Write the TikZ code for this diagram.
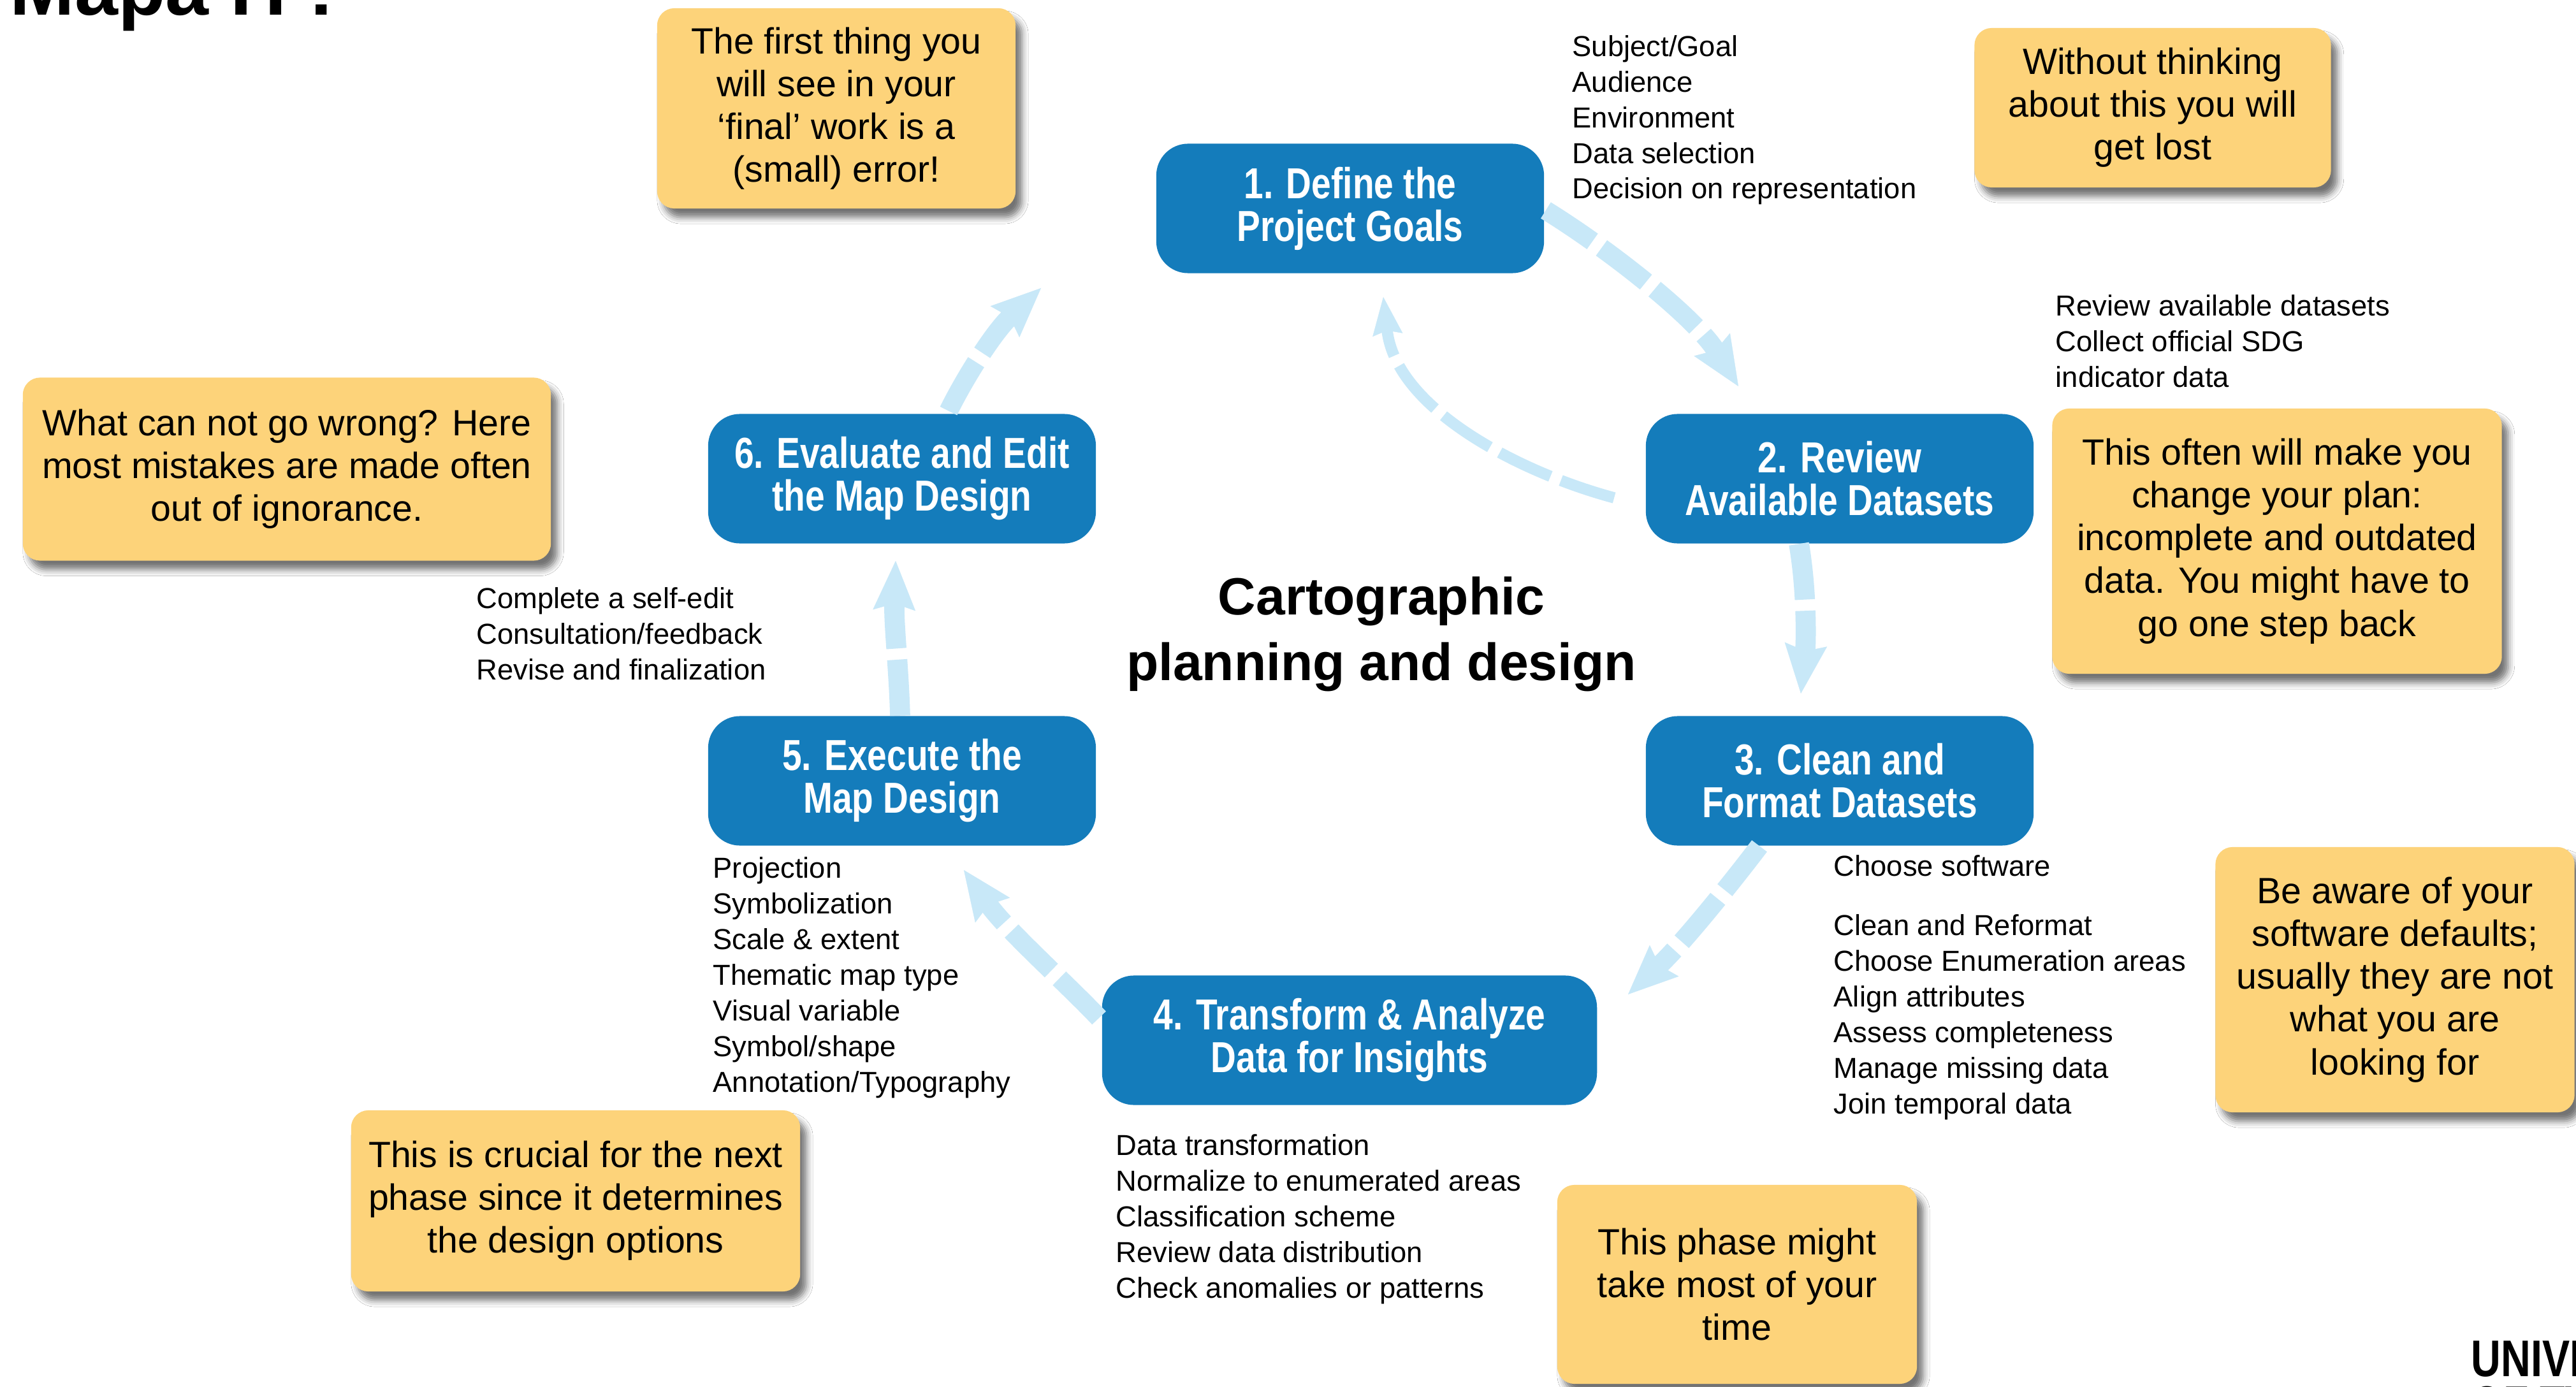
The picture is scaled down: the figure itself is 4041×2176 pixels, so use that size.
\documentclass[tikz,border=0pt]{standalone}
\usepackage{fontspec}
\setmainfont{Liberation Sans}
\newfontfamily\titlefont[FakeStretch=0.81]{Liberation Sans}
\newfontfamily\logofont[FakeStretch=0.8]{Liberation Sans}
\usetikzlibrary{arrows.meta,shadows.blur,calc}

\definecolor{stepblue}{RGB}{20,124,187}
\definecolor{noteyellow}{RGB}{253,211,122}
\definecolor{flowblue}{RGB}{200,232,248}

\begin{document}
\begin{tikzpicture}[x=0.01cm,y=-0.01cm,
  stepbox/.style={fill=stepblue, text=white, rounded corners=0.5cm,
    minimum width=6.08cm, minimum height=2.03cm, align=center, inner sep=0pt,
    font=\titlefont\bfseries\fontsize{19.35}{19.06}\selectfont},
  note/.style={fill=noteyellow, rounded corners=0.27cm, align=center, inner sep=0pt,
    font=\fontsize{16.3}{19.1}\selectfont,
    blur shadow={shadow xshift=0.1cm, shadow yshift=-0.14cm, shadow blur radius=0.1cm, shadow opacity=55}},
  list/.style={align=left, anchor=base west, inner sep=0pt, font=\fontsize{12.9}{15.9}\selectfont},
  flow/.style={draw=flowblue, line width=8.5pt, dash pattern=on 25pt off 5pt,
    -{Stealth[length=22pt,width=19pt,inset=3pt,line width=0.1pt]}},
  thinflow/.style={draw=flowblue, line width=5pt, dash pattern=on 25pt off 5pt,
    -{Stealth[length=17pt,width=13.5pt,inset=2pt,line width=0.1pt]}},
]
\useasboundingbox (0,0) rectangle (4041,2176);
\clip (0,0) rectangle (4041,2176);
\fill[white] (0,0) rectangle (4041,2176);

% title fragment and logo
\node[anchor=base west, inner sep=0pt, font=\bfseries\fontsize{34.7}{40}\selectfont] (maptitle) at (15,24) {Mapa IT?};
\node[anchor=base west, inner sep=0pt, align=left, font=\logofont\bfseries\fontsize{23}{20.2}\selectfont] (logo) at (3876,2231) {UNIVERSITY\\OF TWENTE.};

% steps
\node[stepbox] (s1) at (2118,327) {1. Define the\\Project Goals};
\node[stepbox] (s2) at (2886,751) {2. Review\\Available Datasets};
\node[stepbox] (s3) at (2886,1225) {3. Clean and\\Format Datasets};
\node[stepbox, minimum width=7.76cm] (s4) at (2117,1632) {4. Transform \& Analyze\\Data for Insights};
\node[stepbox] (s5) at (1415,1225) {5. Execute the\\Map Design};
\node[stepbox] (s6) at (1415,751) {6. Evaluate and Edit\\the Map Design};

% centre title
\node[align=center, inner sep=0pt, font=\bfseries\fontsize{23.4}{29.3}\selectfont] (ctitle) at (2167,995) {Cartographic\\planning and design};

% notes
\node[note, minimum width=5.62cm, minimum height=3.14cm] (nA) at (1312,170) {The first thing you\\will see in your\\‘final’ work is a\\(small) error!};
\node[note, minimum width=5.59cm, minimum height=2.50cm] (nB) at (3377,169) {Without thinking\\about this you will\\get lost};
\node[note, minimum width=8.28cm, minimum height=2.87cm] (nC) at (450,736) {What can not go wrong? Here\\most mistakes are made often\\out of ignorance.};
\node[note, minimum width=7.05cm, minimum height=4.16cm] (nD) at (3572,849) {This often will make you\\change your plan:\\incomplete and outdated\\data. You might have to\\go one step back};
\node[note, minimum width=5.63cm, minimum height=4.16cm] (nE) at (3757,1537) {Be aware of your\\software defaults;\\usually they are not\\what you are\\looking for};
\node[note, minimum width=7.04cm, minimum height=2.84cm] (nF) at (903,1884) {This is crucial for the next\\phase since it determines\\the design options};
\node[note, minimum width=5.64cm, minimum height=3.12cm] (nG) at (2725,2015) {This phase might\\take most of your\\time};

% lists (anchored at the baseline of their last line)
\node[list] (l1) at (2466,312) {Subject/Goal\\Audience\\Environment\\Data selection\\Decision on representation};
\node[list] (l2) at (3224,607) {Review available datasets\\Collect official SDG\\indicator data};
\node[list] (l6) at (747,1066) {Complete a self-edit\\Consultation/feedback\\Revise and finalization};
\node[list] (l5) at (1118,1713) {Projection\\Symbolization\\Scale \& extent\\Thematic map type\\Visual variable\\Symbol/shape\\Annotation/Typography};
\node[list] (l3a) at (2876,1374) {Choose software};
\node[list] (l3b) at (2876,1747) {Clean and Reformat\\Choose Enumeration areas\\Align attributes\\Assess completeness\\Manage missing data\\Join temporal data};
\node[list] (l4) at (1750,2036) {Data transformation\\Normalize to enumerated areas\\Classification scheme\\Review data distribution\\Check anomalies or patterns};

% arrow tips
\coordinate (t12) at (2727,606);
\coordinate (t21) at (2170,466);
\coordinate (t23) at (2825,1088);
\coordinate (t34) at (2554,1560);
\coordinate (t45) at (1512,1365);
\coordinate (t56) at (1405,880);
\coordinate (t61) at (1633,452);

% connectors
\draw[flow] ($(s1.east)+(2,3)$) .. controls (2530,395) and (2660,500) .. (t12);
\draw[thinflow] ($(s2.west)+(-49,30)$) .. controls (2380,740) and (2190,640) .. (t21);
\draw[flow, line width=9pt] ($(s2.south)+(-64,0)$) .. controls (2835,930) and (2833,1010) .. (t23);
\draw[flow] ($(s3.south)+(-126,0)$) .. controls (2720,1380) and (2640,1480) .. (t34);
\draw[flow] ($(s4.west)+(-4,-35)$) .. controls (1670,1540) and (1580,1460) .. (t45);
\draw[flow, line width=9pt] ($(s5.north)+(-3,0)$) .. controls (1410,1050) and (1402,980) .. (t56);
\draw[flow] ($(s6.north)+(73,-4)$) .. controls (1515,590) and (1560,520) .. (t61);
\end{tikzpicture}
\end{document}
